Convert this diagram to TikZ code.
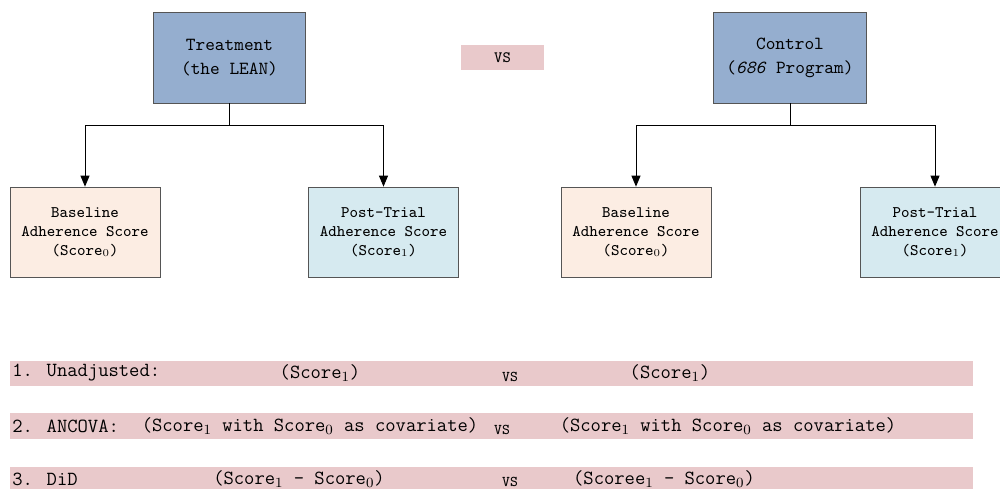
\documentclass[tikz,border=0pt]{standalone}
\usepackage{amsmath}
\usepackage{tikz}
\usetikzlibrary{positioning,arrows.meta}

\definecolor{armblue}{RGB}{149,174,207}
\definecolor{vspink}{RGB}{233,201,203}
\definecolor{basepeach}{RGB}{252,237,227}
\definecolor{postblue}{RGB}{214,234,240}
\definecolor{boxline}{RGB}{85,85,85}

\begin{document}
\begin{tikzpicture}[
  x=0.02cm, y=-0.02cm,
  arm/.style={rectangle, draw=boxline, fill=armblue, minimum width=3.05cm, minimum height=1.82cm,
    align=center, font=\ttfamily\fontsize{10.5}{13.6}\selectfont},
  score/.style={rectangle, draw=boxline, minimum width=3cm, minimum height=1.8cm,
    align=center, font=\ttfamily\fontsize{9.2}{10.8}\selectfont},
  band/.style={rectangle, fill=vspink, minimum width=19.26cm, minimum height=0.52cm, inner sep=0pt},
  rowtxt/.style={inner sep=0pt, font=\ttfamily\fontsize{11.4}{13}\selectfont},
  vstxt/.style={inner sep=0pt, font=\ttfamily\fontsize{8.5}{10}\selectfont},
  edge/.style={draw=black, line width=0.5pt},
  arrow/.style={edge, -{Triangle[length=2.2mm, width=1.8mm]}}
]
  \path[use as bounding box, clip] (0,0) rectangle (1000,489);

  % top row
  \node[arm] (treat) at (229.5,57.5) {Treatment\\(the LEAN)};
  \node[rectangle, fill=vspink, minimum width=1.66cm, minimum height=0.5cm,
    font=\ttfamily\fontsize{9}{11}\selectfont] (vs) at (502.5,57.5) {VS};
  \node[arm] (ctrl) at (790,57.5) {Control\\(\textit{686} Program)};

  % scores
  \node[score, fill=basepeach] (baseA) at (85,232) {Baseline\\Adherence Score\\(Score$_0$)};
  \node[score, fill=postblue] (postA) at (383.5,232) {Post-Trial\\Adherence Score\\(Score$_1$)};
  \node[score, fill=basepeach] (baseB) at (636,232) {Baseline\\Adherence Score\\(Score$_0$)};
  \node[score, fill=postblue] (postB) at (935,232) {Post-Trial\\Adherence Score\\(Score$_1$)};

  \coordinate (forkA) at (229.5,125);
  \coordinate (forkB) at (790,125);
  \draw[edge] (treat.south) -- (forkA);
  \draw[arrow] (forkA) -| (baseA.north);
  \draw[arrow] (forkA) -| (postA.north);
  \draw[edge] (ctrl.south) -- (forkB);
  \draw[arrow] (forkB) -| (baseB.north);
  \draw[arrow] (forkB) -| (postB.north);

  % comparisons
  \node[band] (row1) at (491.5,373.5) {};
  \node[band] (row2) at (491.5,426) {};
  \node[band] (row3) at (491.5,480) {};

  \node[rowtxt, anchor=west] (m1) at (12,373) {1. Unadjusted:};
  \node[rowtxt] (l1) at (320,373) {(Score$_1$)};
  \node[vstxt] (v1) at (510,377) {VS};
  \node[rowtxt] (r1) at (670,373) {(Score$_1$)};

  \node[rowtxt, anchor=west] (m2) at (12,426) {2. ANCOVA:};
  \node[rowtxt] (l2) at (310,426) {(Score$_1$ with Score$_0$ as covariate)};
  \node[vstxt] (v2) at (502,430) {VS};
  \node[rowtxt] (r2) at (728,426) {(Score$_1$ with Score$_0$ as covariate)};

  \node[rowtxt, anchor=west] (m3) at (12,479) {3. DiD};
  \node[rowtxt] (l3) at (299,479) {(Score$_1$ - Score$_0$)};
  \node[vstxt] (v3) at (510,482) {VS};
  \node[rowtxt] (r3) at (664,479) {(Scoree$_1$ - Score$_0$)};
\end{tikzpicture}
\end{document}
